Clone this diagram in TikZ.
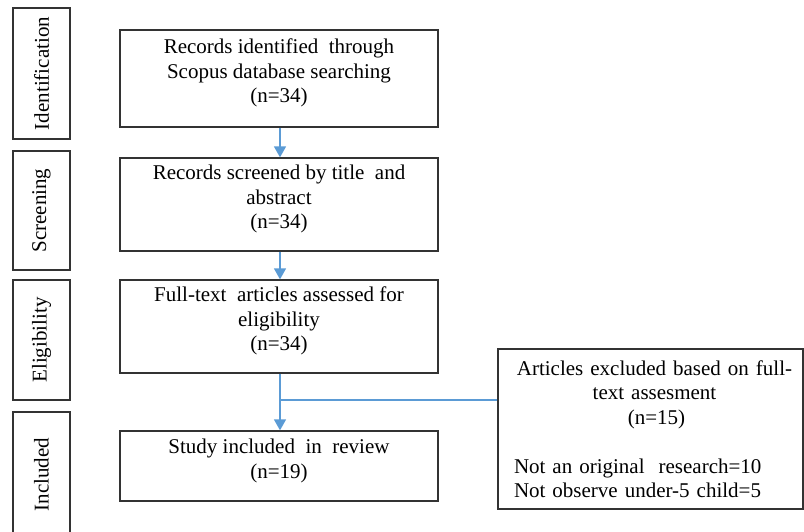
\documentclass[tikz,border=0pt]{standalone}
\usepackage{fontspec}
\setmainfont{Liberation Serif}
\usetikzlibrary{shapes, calc, arrows.meta, positioning}

\definecolor{flowblue}{RGB}{91,155,213}
\newcommand{\liftlines}[1]{\raisebox{5pt}[\height][\depth]{\begin{tabular}{@{}c@{}}#1\end{tabular}}}

\begin{document}
\begin{tikzpicture}[x=1pt, y=1pt,
	box/.style={draw=black!80, line width=1.3pt, rectangle, minimum width=318pt,
		font=\fontsize{21}{24.5}\selectfont, inner sep=0pt},
	phase/.style={draw=black!80, line width=1.3pt, rectangle, rotate=90,
		minimum height=57pt, font=\fontsize{21}{24.5}\selectfont, inner sep=0pt},
	flow/.style={draw=flowblue, line width=1.4pt, -{Triangle[width=12pt,length=11pt]}}]

	\useasboundingbox (0,0) rectangle (804,-531);

	% phases on the left
	\node[phase, minimum width=131pt] (ident) at (41.5,-73.5) {Identification};
	\node[phase, minimum width=119pt] (screen) at (41.5,-210.5) {Screening};
	\node[phase, minimum width=120pt] (elig) at (41.5,-340) {Eligibility};
	\node[phase, minimum width=125pt] (incl) at (41.5,-474.5) {Included};

	% main flow
	\node[box, minimum height=97pt] (records) at (279,-78.5)
		{\liftlines{Records identified\ \ through\\Scopus\ database searching\\(n=34)}};
	\node[box, minimum height=93pt] (screened) at (279,-204.5)
		{\liftlines{Records screened by title\ \ and\\abstract\\(n=34)}};
	\node[box, minimum height=93pt] (fulltext) at (279,-326.5)
		{\liftlines{Full-text\ \ articles assessed for\\eligibility\\(n=34)}};
	\node[box, minimum height=70pt] (study) at (279,-466)
		{\liftlines{Study included\ \ in\ \ review\\(n=19)}};

	\node[draw=black!80, line width=1.3pt, rectangle, minimum width=305pt,
		minimum height=160pt, inner xsep=16pt, inner ysep=0pt, text width=273pt,
		font=\fontsize{21}{24.5}\selectfont] (excluded) at (650.5,-429)
		{\makebox[\linewidth][c]{\hspace*{8pt}Articles excluded based on full-}\par
		\makebox[\linewidth][c]{\hspace*{8pt}text assesment}\par
		\makebox[\linewidth][c]{\hspace*{12pt}(n=15)}\par
		\vspace{24.5pt}\raggedright Not an original\ \ research=10\\Not observe under-5 child=5\par};

	\coordinate (split) at (280,-400);
	\coordinate (join) at (excluded.west |- split);

	\draw[flow] (records.south -| split) -- (screened.north -| split);
	\draw[flow] (screened.south -| split) -- (fulltext.north -| split);
	\draw[flow] (fulltext.south -| split) -- (study.north -| split);
	\draw[draw=flowblue, line width=1.4pt] (split) -- (join);
\end{tikzpicture}
\end{document}
